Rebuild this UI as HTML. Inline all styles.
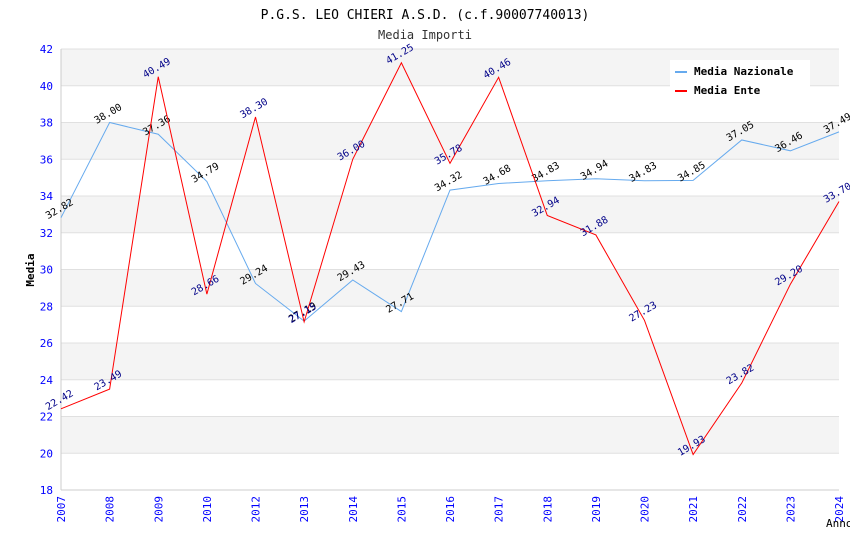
<!DOCTYPE html>
<html><head><meta charset="utf-8"><style>
body{margin:0;background:#fff;width:850px;height:550px;overflow:hidden}
text{font-family:"DejaVu Sans Mono","Liberation Mono",monospace}
</style></head><body>
<svg id="c" width="850" height="550" xmlns="http://www.w3.org/2000/svg">
<text x="425" y="19" text-anchor="middle" font-size="13" fill="#000">P.G.S. LEO CHIERI A.S.D. (c.f.90007740013)</text>
<text x="425" y="39" text-anchor="middle" font-size="12" fill="#333">Media Importi</text>
<g id="bands"></g><g id="axes"></g><g id="series"></g>
<text x="34" y="270" transform="rotate(-90 34 270)" text-anchor="middle" font-size="11" font-weight="bold">Media</text>
<text x="826" y="527" font-size="11">Anno</text>
<g>
<rect x="670" y="60" width="140" height="40" fill="#fff"/>
<rect x="675" y="71" width="12" height="2" fill="#66aaee"/>
<text x="694" y="75" font-size="11" font-weight="bold">Media Nazionale</text>
<rect x="675" y="90" width="12" height="2" fill="#ff0000"/>
<text x="694" y="94" font-size="11" font-weight="bold">Media Ente</text>
</g>
</svg>
<script>
const categories=["2007","2008","2009","2010","2012","2013","2014","2015","2016","2017","2018","2019","2020","2021","2022","2023","2024"];
const nazionale=[32.82,38.00,37.36,34.79,29.24,27.19,29.43,27.71,34.32,34.68,34.83,34.94,34.83,34.85,37.05,36.46,37.49];
const ente=[22.42,23.49,40.49,28.66,38.30,27.15,36.00,41.25,35.78,40.46,32.94,31.88,27.23,19.93,23.82,29.20,33.70];
const yTicks=[18,20,22,24,26,28,30,32,34,36,38,40,42];
const NS="http://www.w3.org/2000/svg";
const L=61,R=839,T=49,B=490,yMin=18,yMax=42;
const xs=i=>L+i*(R-L)/(categories.length-1);
const ys=v=>B-(v-yMin)/(yMax-yMin)*(B-T);
function mk(tag,attrs,parent){const e=document.createElementNS(NS,tag);for(const k in attrs)e.setAttribute(k,attrs[k]);parent.appendChild(e);return e;}
const bands=document.getElementById('bands'),axes=document.getElementById('axes'),series=document.getElementById('series');
for(let i=0;i<yTicks.length-1;i++){
  const a=yTicks[i],b=yTicks[i+1];
  const r=mk('rect',{x:L,y:ys(b),width:R-L,height:ys(a)-ys(b),fill:(i%2==1)?'#f4f4f4':'#fff'},bands);
  
  
}
yTicks.forEach(v=>{
  const g=mk('line',{x1:L,x2:R,y1:ys(v),y2:ys(v),stroke:'#e0e0e0','stroke-width':1},axes);
  
  
  const t=mk('text',{x:L-8,y:ys(v)+4,'text-anchor':'end','font-size':11,fill:'#0000ff'},axes);
  t.textContent=v;
  
  
});
const ax=mk('line',{x1:L,x2:L,y1:T,y2:B,stroke:'#ccc'},axes);


const ax2=mk('line',{x1:L,x2:R,y1:B,y2:B,stroke:'#ccc'},axes);


categories.forEach((c,i)=>{
  const x=xs(i);
  const t=mk('text',{x:x+4,y:B+6,'text-anchor':'end','font-size':11,fill:'#0000ff',transform:`rotate(-90 ${x+4} ${B+6})`},axes);
  t.textContent=c;
  
  
});
function draw(data,color,lblColor,name){
  const p=mk('polyline',{points:data.map((v,i)=>xs(i)+','+ys(v)).join(' '),fill:'none',stroke:color,'stroke-width':1},series);
  
  
  data.forEach((v,i)=>{
    const x=xs(i),y=ys(v)-6;
    const t=mk('text',{x:x,y:y,'text-anchor':'middle','font-size':10,fill:lblColor,transform:`rotate(-30 ${x} ${y})`},series);
    t.textContent=v.toFixed(2);
    
    
  });
}
draw(nazionale,'#66aaee','#000','nazionale');
draw(ente,'#ff0000','#000088','ente');
</script>
</body></html>
